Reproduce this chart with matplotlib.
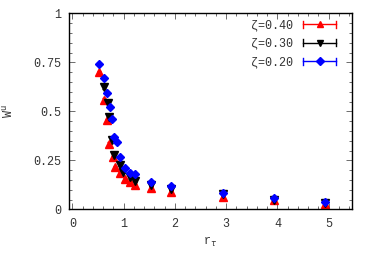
import matplotlib
matplotlib.use("Agg")
import matplotlib.pyplot as plt
from matplotlib.legend_handler import HandlerBase
from matplotlib.lines import Line2D
from matplotlib.ticker import MultipleLocator, FixedLocator

# ---- data ----
x_040 = [0.52, 0.62, 0.68, 0.71, 0.79, 0.83, 0.93, 1.02, 1.12, 1.22, 1.53, 1.93, 2.93, 3.93, 4.93]
y_040 = [0.700, 0.560, 0.455, 0.335, 0.265, 0.217, 0.184, 0.155, 0.138, 0.124, 0.107, 0.088, 0.062, 0.045, 0.028]

x_030 = [0.62, 0.69, 0.72, 0.78, 0.81, 0.92, 0.99, 1.12, 1.23, 1.53, 1.93, 2.93, 3.93, 4.93]
y_030 = [0.622, 0.541, 0.469, 0.355, 0.279, 0.228, 0.189, 0.163, 0.146, 0.124, 0.102, 0.077, 0.046, 0.033]

x_020 = [0.52, 0.62, 0.68, 0.73, 0.78, 0.82, 0.87, 0.93, 1.03, 1.12, 1.23, 1.53, 1.93, 2.93, 3.93, 4.93]
y_020 = [0.740, 0.668, 0.593, 0.524, 0.461, 0.370, 0.344, 0.265, 0.212, 0.187, 0.179, 0.139, 0.119, 0.085, 0.056, 0.039]

labels = ["ζ=0.40", "ζ=0.30", "ζ=0.20"]
colors = ["#ff0000", "#000000", "#0000ff"]
markers = ["^", "v", "D"]
msizes = [5.2, 5.2, 4.3]
yerr_val = 0.006

xticks = [0, 1, 2, 3, 4, 5]
yticks = [0, 0.25, 0.5, 0.75, 1]
ytick_labels = ["0", "0.25", "0.5", "0.75", "1"]

plt.rcParams['font.family'] = ['Liberation Mono', 'DejaVu Sans Mono']
plt.rcParams['font.size'] = 8.5

fig = plt.figure(figsize=(3.74, 2.62), dpi=100)
ax = fig.add_axes([0.1853, 0.2011, 0.7551, 0.7481])

series = [(x_040, y_040), (x_030, y_030), (x_020, y_020)]
for (xs, ys), lab, c, m, ms in zip(series, labels, colors, markers, msizes):
    ax.errorbar(xs, ys, yerr=[yerr_val] * len(ys), fmt=m, color=c, ms=ms,
                elinewidth=1.0, capsize=1.5, label=lab, mec=c, mfc=c)


class GnuplotKey(HandlerBase):
    def __init__(self, color, marker, ms):
        super().__init__()
        self.color = color
        self.marker = marker
        self.ms = ms

    def create_artists(self, legend, orig_handle, xdescent, ydescent, width,
                       height, fontsize, trans):
        yc = height / 2 - ydescent
        x0, x1 = -xdescent, width - xdescent
        line = Line2D([x0, x1], [yc, yc], color=self.color, lw=1.0, transform=trans)
        cap1 = Line2D([x0, x0], [yc - 2.5, yc + 2.5], color=self.color, lw=1.0, transform=trans)
        cap2 = Line2D([x1, x1], [yc - 2.5, yc + 2.5], color=self.color, lw=1.0, transform=trans)
        mk = Line2D([(x0 + x1) / 2], [yc], marker=self.marker, color=self.color,
                    ms=self.ms * 0.9, transform=trans, ls='none')
        return [line, cap1, cap2, mk]


handles, labs = ax.get_legend_handles_labels()
hmap = {h: GnuplotKey(c, m, ms) for h, c, m, ms in zip(handles, colors, markers, msizes)}
leg = ax.legend(handles, labs, handler_map=hmap, loc='upper right', frameon=False,
                markerfirst=False, handlelength=2.85, handletextpad=0.8,
                labelspacing=0.55, borderaxespad=0.3, fontsize=8.5,
                bbox_to_anchor=(0.975, 1.012))
for t in leg.get_texts():
    t.set_color('#333333')

ax.set_xlim(-0.06, 5.45)
ax.set_ylim(0, 1)
ax.xaxis.set_major_locator(FixedLocator(xticks))
ax.xaxis.set_minor_locator(MultipleLocator(0.2))
ax.yaxis.set_major_locator(FixedLocator(yticks))
ax.set_yticklabels(ytick_labels)
ax.yaxis.set_minor_locator(MultipleLocator(0.05))
ax.tick_params(which='both', direction='in', top=True, right=True,
               colors='#555555', labelcolor='#333333', width=0.6)
ax.tick_params(which='major', length=4, pad=6)
ax.tick_params(which='minor', length=2)
for sp in ax.spines.values():
    sp.set_linewidth(1.0)
    sp.set_color('black')

ax.set_xlabel(r"r$_\tau$", color='#333333', labelpad=4)
ax.set_ylabel(r"W$^\mathrm{u}$", color='#333333', labelpad=12)

fig.savefig("out.png", dpi=100)
